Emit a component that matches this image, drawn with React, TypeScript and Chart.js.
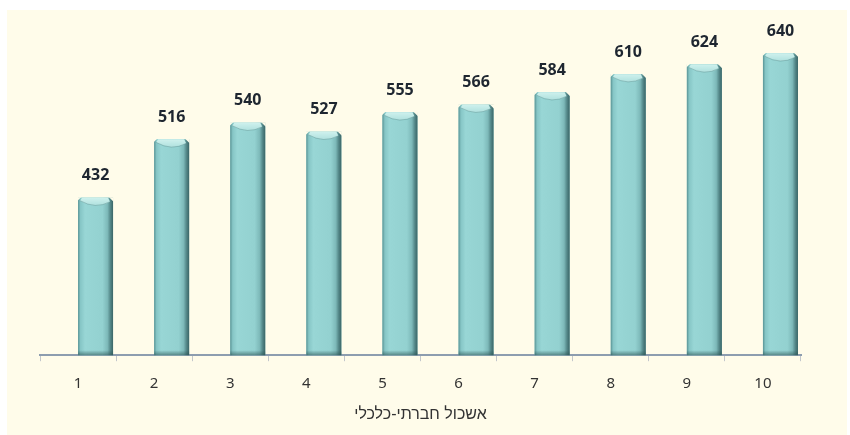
import React, { useEffect, useRef } from "react";
import { Chart, registerables } from "chart.js";

Chart.register(...registerables);

const categories = ["1", "2", "3", "4", "5", "6", "7", "8", "9", "10"];
const values = [432, 516, 540, 527, 555, 566, 584, 610, 624, 640];
const spacer = categories.map(() => null);
const axisTitle = "אשכול חברתי-כלכלי";
const yMin = 205;
const yMax = 688;

const CREAM = "#FFFCEA";

const cylinderPlugin = {
  id: "cylinder",
  afterDatasetsDraw(chart: any) {
    const ctx = chart.ctx as CanvasRenderingContext2D;
    const meta = chart.getDatasetMeta(1);
    const bottom = chart.chartArea.bottom;
    meta.data.forEach((el: any, i: number) => {
      const p = el.getProps(["x", "y", "base", "width"], true);
      const x = p.x, y = p.y, width = p.width;
      const base = Math.min(p.base, bottom);
      const left = x - width / 2;
      const right = x + width / 2;
      ctx.save();
      // body gradient
      const g = ctx.createLinearGradient(left, 0, right, 0);
      g.addColorStop(0, "#5A9495");
      g.addColorStop(0.07, "#86C6C6");
      g.addColorStop(0.2, "#98D6D5");
      g.addColorStop(0.7, "#93D1D0");
      g.addColorStop(0.84, "#7DB9B9");
      g.addColorStop(0.92, "#55898A");
      g.addColorStop(1, "#3A6566");
      ctx.fillStyle = g;
      ctx.fillRect(left, y, width, base - y);
      // bottom shade
      const gb = ctx.createLinearGradient(0, base - 5, 0, base);
      gb.addColorStop(0, "rgba(45,85,85,0)");
      gb.addColorStop(1, "rgba(45,85,85,0.6)");
      ctx.fillStyle = gb;
      ctx.fillRect(left, base - 5, width, 5);
      // top cap
      const gc = ctx.createLinearGradient(0, y, 0, y + 10);
      gc.addColorStop(0, "#CFF1ED");
      gc.addColorStop(1, "#A6DCDA");
      ctx.fillStyle = gc;
      ctx.beginPath();
      ctx.moveTo(left + 2, y + 3);
      ctx.lineTo(left + 4, y);
      ctx.lineTo(right - 5, y);
      ctx.lineTo(right - 3, y + 4);
      ctx.quadraticCurveTo(x, y + 12, left + 2, y + 3);
      ctx.closePath();
      ctx.fill();
      ctx.strokeStyle = "rgba(70,120,120,0.35)";
      ctx.lineWidth = 1;
      ctx.beginPath();
      ctx.moveTo(right - 3, y + 4);
      ctx.quadraticCurveTo(x, y + 12, left + 2, y + 3);
      ctx.stroke();
      // cut corners
      ctx.fillStyle = CREAM;
      ctx.beginPath();
      ctx.moveTo(left - 0.5, y - 0.5);
      ctx.lineTo(left + 3, y - 0.5);
      ctx.lineTo(left - 0.5, y + 3);
      ctx.closePath();
      ctx.fill();
      ctx.beginPath();
      ctx.moveTo(right + 0.5, y - 0.5);
      ctx.lineTo(right - 4, y - 0.5);
      ctx.lineTo(right + 0.5, y + 4);
      ctx.closePath();
      ctx.fill();
      // label
      ctx.fillStyle = "#1E2630";
      ctx.font = "bold 16px 'Open Sans', 'Noto Sans', sans-serif";
      ctx.textAlign = "center";
      ctx.textBaseline = "middle";
      ctx.fillText(String(values[i]), x, y - 22);
      ctx.restore();
    });
  },
};

export default function App() {
  const ref = useRef<HTMLCanvasElement | null>(null);
  useEffect(() => {
    if (!ref.current) return;
    const chart = new Chart(ref.current, {
      type: "bar",
      data: {
        labels: categories,
        datasets: [
          { label: "", data: spacer as any, backgroundColor: "rgba(0,0,0,0)", base: yMin },
          { label: "value", data: values, backgroundColor: "#94D3D2", borderWidth: 0, base: yMin },
        ],
      },
      options: {
        animation: false,
        responsive: false,
        maintainAspectRatio: false,
        events: [],
        layout: { padding: { left: 33, right: 46, top: 10, bottom: 10.6 } },
        datasets: { bar: { categoryPercentage: 0.92, barPercentage: 1.0 } },
        plugins: {
          legend: { display: false },
          tooltip: { enabled: false },
          title: { display: false },
        },
        scales: {
          x: {
            grid: {
              display: true,
              drawOnChartArea: false,
              drawTicks: true,
              tickLength: 6,
              color: "#C3C7CB",
              offset: true,
            },
            border: { display: true, color: "#8D9DAF", width: 2 },
            ticks: {
              color: "#333333",
              padding: 13.6,
              font: { family: "'Noto Sans', sans-serif", size: 15 },
            },
            title: {
              display: true,
              text: axisTitle,
              color: "#333333",
              padding: { top: 0, bottom: 2 },
              font: { family: "'Liberation Sans', Arial, sans-serif", size: 16, lineHeight: 1 },
            },
          },
          y: {
            display: false,
            min: yMin,
            max: yMax,
          },
        },
      },
      plugins: [cylinderPlugin],
    });
    return () => chart.destroy();
  }, []);
  return (
    <div
      style={{
        position: "absolute",
        left: 7,
        top: 10,
        width: 840,
        height: 425,
        background: CREAM,
      }}
    >
      <canvas ref={ref} width={840} height={425} style={{ display: "block" }} />
    </div>
  );
}
